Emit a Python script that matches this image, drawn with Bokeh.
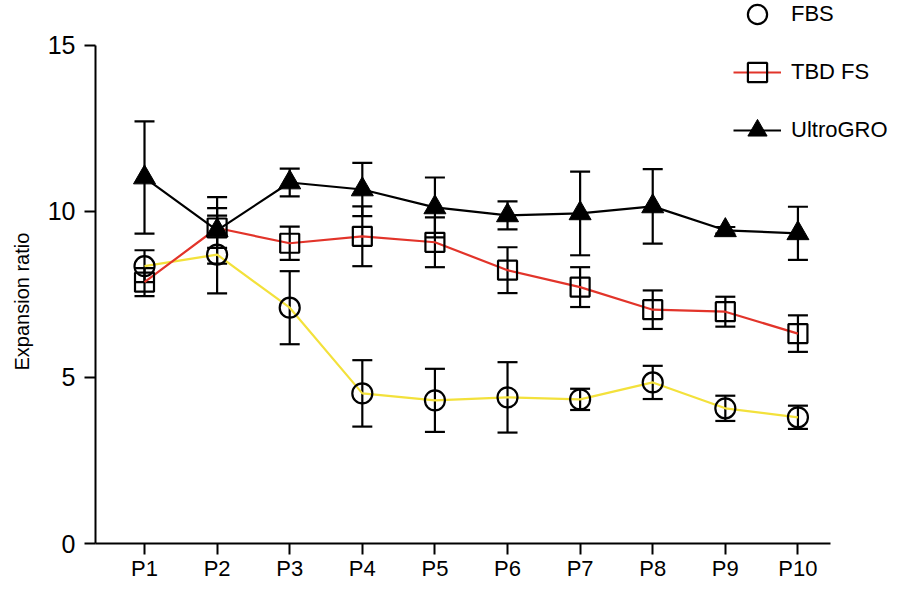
from bokeh.plotting import figure
from bokeh.models import (ColumnDataSource, Range1d, Whisker, TeeHead, Legend,
                          LegendItem, FixedTicker, CustomJSTickFormatter, Title)
from bokeh.embed import file_html
from bokeh.resources import INLINE

passages = ["P1", "P2", "P3", "P4", "P5", "P6", "P7", "P8", "P9", "P10"]
x_pos = [1, 2, 3, 4, 5, 6, 7, 8, 9, 10]

fbs = [8.35, 8.70, 7.10, 4.52, 4.31, 4.40, 4.34, 4.85, 4.07, 3.80]
fbs_err = [0.48, 1.17, 1.10, 1.00, 0.95, 1.06, 0.32, 0.50, 0.38, 0.35]

tbd = [7.87, 9.50, 9.04, 9.25, 9.07, 8.23, 7.72, 7.04, 6.98, 6.32]
tbd_err = [0.42, 0.60, 0.50, 0.90, 0.75, 0.69, 0.60, 0.58, 0.45, 0.55]

ultro = [11.02, 9.43, 10.87, 10.66, 10.12, 9.88, 9.94, 10.15, 9.43, 9.34]
ultro_err = [1.69, 1.00, 0.42, 0.80, 0.90, 0.42, 1.26, 1.12, 0.10, 0.80]

y_ticks = [0, 5, 10, 15]

FONT = "Liberation Sans"

p = figure(width=890, height=583, output_backend="svg", toolbar_location=None,
           x_range=Range1d(0.325, 11.275), y_range=Range1d(0, 16.35),
           min_border_left=95, min_border_right=0, min_border_top=0,
           min_border_bottom=38)
p.outline_line_color = None
p.grid.visible = False
p.background_fill_color = "white"
p.border_fill_color = "white"

def src(y, e):
    return ColumnDataSource(dict(x=x_pos, y=y,
                                 lo=[a - b for a, b in zip(y, e)],
                                 hi=[a + b for a, b in zip(y, e)]))

s_fbs = src(fbs, fbs_err)
s_tbd = src(tbd, tbd_err)
s_ult = src(ultro, ultro_err)

l_fbs = p.line("x", "y", source=s_fbs, line_color="#f3e13b", line_width=2.2)
l_tbd = p.line("x", "y", source=s_tbd, line_color="#e2342a", line_width=2.2)
l_ult = p.line("x", "y", source=s_ult, line_color="black", line_width=2.2)

for s in (s_fbs, s_tbd, s_ult):
    w = Whisker(source=s, base="x", lower="lo", upper="hi",
                line_color="black", line_width=2.2,
                upper_head=TeeHead(size=20, line_color="black", line_width=2.2),
                lower_head=TeeHead(size=20, line_color="black", line_width=2.2))
    p.add_layout(w)

m_fbs = p.scatter("x", "y", source=s_fbs, marker="circle", size=20,
                  fill_color=None, line_color="black", line_width=2.2)
m_tbd = p.scatter("x", "y", source=s_tbd, marker="square", size=19,
                  fill_color=None, line_color="black", line_width=2.2)
m_ult = p.scatter("x", "y", source=s_ult, marker="triangle", size=22,
                  fill_color="black", line_color="black", line_width=1)

# axes
p.yaxis.bounds = (0, 15)
p.yaxis.ticker = FixedTicker(ticks=y_ticks)
p.xaxis.bounds = (0.325, 10.45)
p.xaxis.ticker = FixedTicker(ticks=x_pos)
p.xaxis.formatter = CustomJSTickFormatter(
    args=dict(labels=passages),
    code="return labels[Math.round(tick) - 1];")
for ax in (p.xaxis[0], p.yaxis[0]):
    ax.axis_line_width = 2
    ax.axis_line_color = "black"
    ax.major_tick_line_width = 2
    ax.major_tick_line_color = "black"
    ax.major_tick_out = 11
    ax.major_tick_in = 0
    ax.minor_tick_out = 0
    ax.minor_tick_in = 0
    ax.major_label_text_color = "black"
    ax.major_label_text_font = FONT
p.yaxis.major_label_text_font_size = "25px"
p.yaxis.major_label_standoff = 9
p.xaxis.major_label_text_font_size = "22px"
p.xaxis.major_label_standoff = 1

ytitle = Title(text="Expansion ratio", align="left", offset=173,
               vertical_align="top",
               text_font=FONT, text_font_size="20px",
               text_font_style="normal", text_color="black", standoff=19)
p.add_layout(ytitle, "left")

legend = Legend(items=[
    LegendItem(label="FBS", renderers=[m_fbs]),
    LegendItem(label="TBD FS", renderers=[l_tbd, m_tbd]),
    LegendItem(label="UltroGRO", renderers=[l_ult, m_ult]),
], location=(638, 389))
legend.border_line_color = None
legend.background_fill_alpha = 0
legend.padding = 0
legend.margin = 0
legend.glyph_width = 48
legend.glyph_height = 48
legend.label_height = 48
legend.spacing = 10
legend.label_standoff = 10
legend.label_text_font = FONT
legend.label_text_font_size = "22px"
legend.label_text_color = "black"
p.add_layout(legend)

open("out.html", "w").write(file_html(p, INLINE))
